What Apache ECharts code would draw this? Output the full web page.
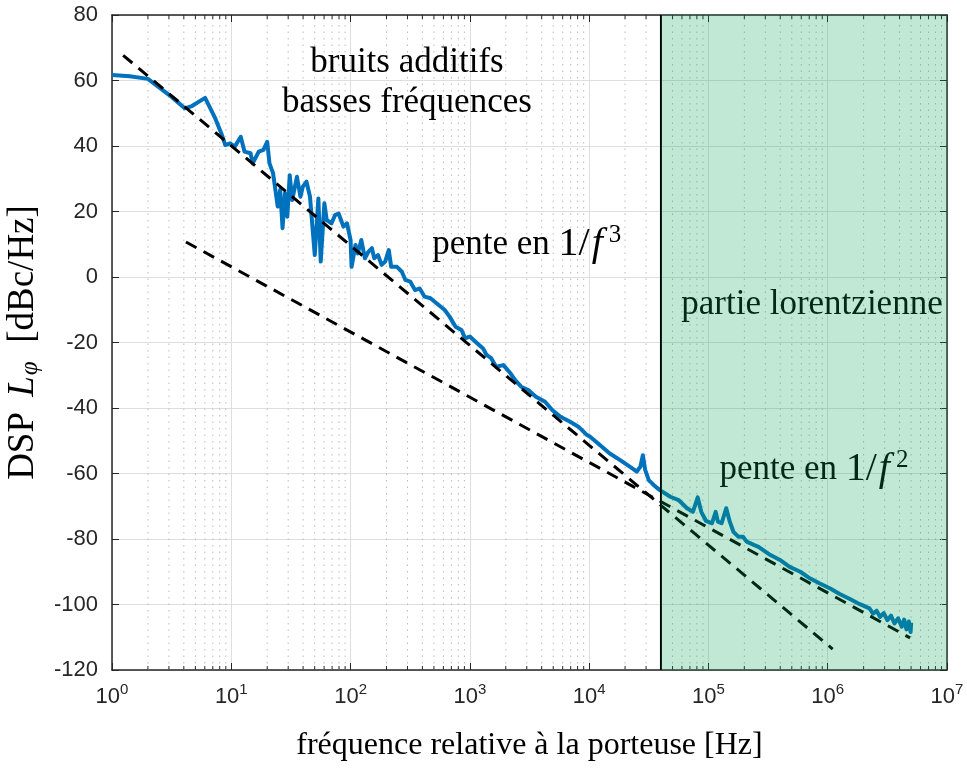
<!DOCTYPE html>
<html>
<head>
<meta charset="utf-8">
<script src="https://cdn.jsdelivr.net/npm/echarts@6/dist/echarts.min.js"></script>
<style>
  html, body { margin: 0; padding: 0; background: #fff; }
  #chart { width: 967px; height: 775px; }
</style>
</head>
<body>
<div id="chart"></div>
<script>
// fréquence [Hz] et DSP [dBc/Hz]
const freq = [1, 1.41, 2.0, 3.16, 4.07, 4.68, 6.03, 7.24, 8.32, 8.91, 9.77, 10.7, 12.0, 12.9, 14.5, 15.1,
  17.0, 18.6, 20.0, 20.9, 22.4, 24.5, 25.7, 26.9, 28.2, 29.5, 30.9, 32.4, 35.5, 38.0, 39.8, 42.7, 45.7,
  50.1, 53.7, 56.2, 60.3, 63.1, 69.2, 74.1, 79.4, 87.1, 93.3, 100, 102, 110, 115, 123, 132, 141, 151,
  158, 170, 182, 195, 209, 219, 245, 269, 288, 316, 347, 380, 417, 468, 525, 617, 676, 759, 851, 912,
  1000, 1150, 1290, 1380, 1510, 1660, 1910, 2190, 2400, 2690, 3090, 3550, 4270, 4900, 5750, 6920, 8130,
  9550, 10200, 12300, 14800, 18200, 21900, 25100, 26900, 28200, 29500, 31600, 34700, 38900, 47900,
  56200, 66100, 74100, 81300, 87100, 95500, 107000, 115000, 120000, 129000, 141000, 151000, 162000,
  178000, 195000, 209000, 240000, 263000, 288000, 331000, 398000, 479000, 589000, 708000, 851000,
  1050000, 1260000, 1550000, 1860000, 2240000, 2400000, 2570000, 2750000, 2950000, 3160000, 3390000,
  3630000, 3890000, 4170000, 4370000, 4570000, 4790000, 4950000, 5010000];
const dsp = [61.7, 61.3, 60.5, 55.0, 51.5, 52.2, 54.7, 48.9, 43.5, 40.3, 40.8, 39.8, 42.8, 38.3, 37.8, 34.7,
  38.3, 38.8, 41.3, 34.7, 31.7, 21.5, 26.6, 14.9, 25.6, 18.4, 31.1, 23.5, 30.6, 24.5, 27.6, 29.1, 24.5,
  6.7, 24.0, 4.7, 22.5, 17.4, 16.4, 18.9, 19.4, 15.4, 16.4, 11.3, 3.1, 9.8, 7.2, 11.3, 5.7, 7.7, 8.8,
  5.7, 6.7, 3.7, 4.7, 8.2, 3.1, 3.1, 1.6, -0.9, -1.4, -4.0, -3.5, -6.0, -6.5, -8.0, -10.1, -12.1, -15.2, -16.2, -18.7,
  -18.2, -20.2, -21.8, -23.8, -24.8, -27.4, -26.9, -29.4, -31.5, -33.5, -34.5, -36.5, -38.1, -40.6, -42.7, -44.2, -45.7,
  -48.2, -48.8, -51.3, -53.8, -55.9, -57.9, -59.4, -57.9, -54.4, -58.9, -62.0, -63.5, -65.0, -67.1,
  -68.1, -70.6, -71.7, -67.3, -71.7, -74.5, -75.2, -71.7, -74.7, -75.2, -70.6, -74.7, -77.8,
  -79.3, -79.3, -80.8, -81.8, -82.4, -83.4, -84.9, -86.4, -88.5, -90.0, -92.0, -93.5,
  -95.1, -96.8, -98.4, -99.9, -101.2, -102.8, -101.9, -103.8, -102.6, -104.8, -103.4,
  -105.8, -104.2, -106.8, -104.6, -107.6, -105.2, -108.4, -105.5];

// droites de pente (asymptotes)
const pente3 = [[1.24, 67.7], [1.1e6, -113.6]];
const pente2 = [[4.17, 10.7], [4.9e6, -110.2]];

// zone lorentzienne
const lorentzZone = [[4e4, -120, 1e7, 80]];

// axes
const xMin = 1, xMax = 1e7;
const yMin = -120, yMax = 80, yStep = 20;
const decades = [1, 10, 100, 1e3, 1e4, 1e5, 1e6];
const minorSteps = [2, 3, 4, 5, 6, 7, 8, 9];
const minorTicks = [];
decades.forEach(d => minorSteps.forEach(k => minorTicks.push([k * d, 0])));

// annotations [f, dB, texte]
const notes = [
  [297, 59.2, 'bruits additifs\nbasses fréquences'],
  [3000, 9.8, '{t|pente en }{m|1/}{i|f}{s|3}'],
  [7.38e5, -8.5, 'partie lorentzienne'],
  [7.66e5, -58.9, '{t|pente en }{m|1/}{i|f}{s|2}']
];

const serif = 'Liberation Serif';
const sans = 'Liberation Sans';
const axisColor = '#262626';

const chart = echarts.init(document.getElementById('chart'), null, { renderer: 'canvas' });

const xCommon = {
  type: 'log', logBase: 10, min: xMin, max: xMax,
  axisLine: { show: true, onZero: false, lineStyle: { color: axisColor, width: 1.5 } },
  axisTick: { show: true, inside: true, length: 7, lineStyle: { color: axisColor, width: 1 } }
};
const yCommon = {
  type: 'value', min: yMin, max: yMax, interval: yStep,
  axisLine: { show: true, onZero: false, lineStyle: { color: axisColor, width: 1.5 } },
  axisTick: { show: true, inside: true, length: 7, lineStyle: { color: axisColor, width: 1 } }
};

chart.setOption({
  animation: false,
  backgroundColor: '#fff',
  grid: { left: 112, right: 20, top: 15, bottom: 105, containLabel: false, outerBoundsMode: 'none' },
  xAxis: [
    Object.assign({}, xCommon, {
      position: 'bottom',
      splitLine: { show: true, lineStyle: { color: '#dedede', width: 1 } },
      axisLabel: {
        margin: 12,
        formatter: v => '{b|10}{s|' + Math.round(Math.log10(v)) + '}',
        rich: {
          b: { fontFamily: sans, fontSize: 22, color: axisColor },
          s: { fontFamily: sans, fontSize: 15, color: axisColor, padding: [0, 0, 15, 0] }
        }
      },
      name: 'fréquence relative à la porteuse [Hz]',
      nameLocation: 'middle',
      nameGap: 60,
      nameTextStyle: { fontFamily: serif, fontSize: 32, color: '#000' }
    }),
    Object.assign({}, xCommon, {
      position: 'top',
      axisLabel: { show: false },
      splitLine: { show: false }
    })
  ],
  yAxis: [
    Object.assign({}, yCommon, {
      position: 'left',
      splitLine: { show: true, lineStyle: { color: '#dedede', width: 1 } },
      axisLabel: { margin: 14, fontFamily: sans, fontSize: 22, color: axisColor },
      name: '{r|DSP }{i|L}{p|φ}{r|  [dBc/Hz]}',
      nameLocation: 'middle',
      nameRotate: 90,
      nameGap: 66,
      nameTextStyle: {
        rich: {
          r: { fontFamily: serif, fontSize: 37, color: '#000' },
          i: { fontFamily: serif, fontSize: 37, fontStyle: 'italic', color: '#000', padding: [0, 0, 0, 6] },
          p: { fontFamily: serif, fontSize: 25, fontStyle: 'italic', color: '#000', padding: [15, 0, 0, 1] }
        }
      }
    }),
    Object.assign({}, yCommon, {
      position: 'right',
      axisLabel: { show: false },
      splitLine: { show: false }
    })
  ],
  series: [
    {
      // grille secondaire pointillée + petites graduations
      type: 'custom',
      name: 'minor',
      z: 1,
      silent: true,
      clip: false,
      data: minorTicks,
      renderItem: (params, api) => {
        const f = api.value(0);
        const top = api.coord([f, yMax]);
        const bot = api.coord([f, yMin]);
        return {
          type: 'group',
          children: [
            { type: 'line', shape: { x1: bot[0], y1: bot[1], x2: top[0], y2: top[1] },
              style: { stroke: '#bbbbbb', lineWidth: 1, lineDash: [1.5, 5] } },
            { type: 'line', shape: { x1: bot[0], y1: bot[1], x2: bot[0], y2: bot[1] - 4 },
              style: { stroke: axisColor, lineWidth: 1 } },
            { type: 'line', shape: { x1: top[0], y1: top[1], x2: top[0], y2: top[1] + 4 },
              style: { stroke: axisColor, lineWidth: 1 } }
          ]
        };
      }
    },
    {
      name: 'DSP',
      type: 'line',
      z: 3,
      showSymbol: false,
      data: freq.map((f, i) => [f, dsp[i]]),
      lineStyle: { color: '#0072BD', width: 4, join: 'round' }
    },
    {
      name: '1/f3',
      type: 'line',
      z: 4,
      showSymbol: false,
      data: pente3,
      lineStyle: { color: '#000', width: 3, type: [12, 8] }
    },
    {
      name: '1/f2',
      type: 'line',
      z: 4,
      showSymbol: false,
      data: pente2,
      lineStyle: { color: '#000', width: 3, type: [12, 8] }
    },
    {
      name: 'notes',
      type: 'scatter',
      z: 5,
      symbolSize: 1,
      itemStyle: { color: 'transparent', opacity: 1 },
      data: notes.map(n => ({ value: [n[0], n[1]], text: n[2] })),
      label: {
        show: true,
        position: 'inside',
        align: 'center',
        verticalAlign: 'middle',
        fontFamily: serif,
        fontSize: 35,
        lineHeight: 40,
        color: '#000',
        opacity: 1,
        formatter: p => p.data.text,
        rich: {
          t: { fontFamily: serif, fontSize: 35, color: '#000' },
          m: { fontFamily: serif, fontSize: 40, color: '#000' },
          i: { fontFamily: serif, fontSize: 40, fontStyle: 'italic', color: '#000', padding: [0, 4, 0, 2] },
          s: { fontFamily: serif, fontSize: 25, color: '#000', padding: [0, 0, 18, 2] }
        }
      }
    },
    {
      // zone verte semi-transparente
      type: 'custom',
      name: 'lorentz',
      z: 10,
      silent: true,
      clip: false,
      data: lorentzZone,
      encode: { x: [0, 2], y: [1, 3] },
      renderItem: (params, api) => {
        const p0 = api.coord([api.value(0), api.value(3)]);
        const p1 = api.coord([api.value(2), api.value(1)]);
        return {
          type: 'group',
          children: [
            { type: 'line', shape: { x1: p0[0], y1: p0[1], x2: p0[0], y2: p1[1] },
              style: { stroke: '#000', lineWidth: 2 } },
            { type: 'rect', shape: { x: p0[0], y: p0[1], width: p1[0] - p0[0], height: p1[1] - p0[1] },
              style: { fill: 'rgba(3,163,83,0.25)' } }
          ]
        };
      }
    }
  ]
});
</script>
</body>
</html>
